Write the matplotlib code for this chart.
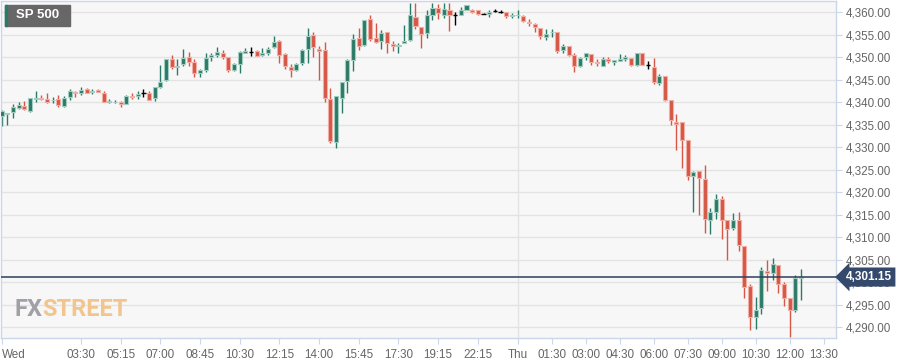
import matplotlib.pyplot as plt
from matplotlib.patches import Rectangle
from matplotlib.ticker import FuncFormatter, MultipleLocator

plt.rcParams['font.family'] = ['Liberation Sans', 'DejaVu Sans']

# 15 min candles, Wed 00:00 -> Thu 12:30 (break 20:00-21:15 removed)
opens = [4337.0, 4337.4, 4337.9, 4338.7, 4339.1, 4338.1, 4340.7, 4340.9, 4340.8, 4340.4,
         4340.7, 4339.2, 4341.1, 4342.3, 4342.1, 4342.9, 4342.3, 4342.7, 4342.1, 4340.1,
         4340.0, 4340.0, 4339.7, 4341.4, 4341.3, 4342.0, 4342.1, 4340.9, 4343.3, 4344.9,
         4349.6, 4347.9, 4348.4, 4350.1, 4348.9, 4346.4, 4347.1, 4350.1, 4350.4, 4350.9,
         4350.0, 4347.1, 4348.5, 4351.0, 4351.2, 4351.4, 4350.6, 4351.0, 4352.2, 4353.5,
         4350.7, 4347.9, 4347.2, 4348.7, 4351.9, 4355.0, 4351.9, 4351.5, 4340.8, 4331.1,
         4341.0, 4344.8, 4349.4, 4354.2, 4352.7, 4358.5, 4354.2, 4353.7, 4355.6, 4352.9,
         4352.4, 4353.1, 4353.9, 4359.0, 4356.8, 4355.3, 4359.4, 4360.9, 4359.4, 4360.4,
         4359.3, 4359.4, 4360.4, 4360.4, 4360.4, 4359.6, 4359.5, 4360.2, 4360.1, 4360.1,
         4359.2, 4359.3, 4359.2, 4357.9, 4357.3, 4356.4, 4354.6, 4355.5, 4355.5, 4351.5,
         4352.5, 4350.5, 4348.1, 4350.1, 4350.7, 4349.0, 4348.0, 4349.5, 4348.9, 4349.1,
         4349.5, 4349.8, 4348.3, 4350.9, 4348.2, 4347.8, 4344.3, 4345.8, 4340.4, 4335.7,
         4335.6, 4331.6, 4323.6, 4324.8, 4323.0, 4313.8, 4315.6, 4318.5, 4313.9, 4312.1,
         4313.9, 4308.0, 4299.1, 4292.3, 4294.2, 4302.5, 4302.1, 4303.9, 4299.5, 4296.5,
         4293.8, 4300.9]
highs = [4338.3, 4337.6, 4339.6, 4340.0, 4340.3, 4341.0, 4342.5, 4341.6, 4342.0, 4341.1,
         4341.6, 4341.4, 4342.9, 4342.6, 4343.3, 4343.2, 4342.9, 4342.9, 4342.6, 4340.7,
         4340.5, 4340.3, 4341.5, 4342.0, 4342.4, 4342.9, 4342.4, 4343.4, 4348.2, 4349.6,
         4350.5, 4349.5, 4351.9, 4351.1, 4349.5, 4347.4, 4350.9, 4351.0, 4352.3, 4351.7,
         4350.0, 4348.7, 4351.3, 4352.0, 4352.3, 4351.5, 4352.0, 4352.3, 4354.8, 4353.9,
         4350.9, 4348.4, 4348.7, 4351.9, 4356.4, 4355.7, 4352.5, 4353.3, 4343.1, 4341.3,
         4344.4, 4349.6, 4355.1, 4356.4, 4358.3, 4359.4, 4357.6, 4356.1, 4355.6, 4353.5,
         4353.1, 4357.2, 4362.0, 4362.0, 4356.8, 4360.4, 4362.0, 4361.8, 4362.1, 4362.0,
         4360.1, 4361.1, 4361.6, 4360.7, 4360.4, 4359.8, 4360.5, 4360.7, 4360.5, 4360.1,
         4359.8, 4360.5, 4359.4, 4358.4, 4357.6, 4356.4, 4356.2, 4356.2, 4355.5, 4353.0,
         4352.5, 4351.0, 4350.1, 4350.9, 4350.7, 4349.6, 4350.1, 4350.0, 4349.4, 4350.8,
         4350.4, 4349.8, 4351.0, 4350.9, 4349.1, 4349.9, 4346.3, 4345.8, 4340.6, 4337.4,
         4335.6, 4331.6, 4324.8, 4324.8, 4326.1, 4316.5, 4319.5, 4319.1, 4313.9, 4315.4,
         4315.6, 4308.0, 4299.6, 4296.7, 4303.4, 4305.0, 4305.4, 4303.9, 4300.1, 4296.5,
         4301.7, 4303.0]
lows = [4334.7, 4335.0, 4336.4, 4338.4, 4338.2, 4337.9, 4340.0, 4340.4, 4339.9, 4339.9,
        4339.0, 4339.0, 4340.5, 4341.1, 4341.6, 4342.0, 4341.9, 4342.2, 4340.0, 4339.9,
        4339.8, 4338.9, 4339.6, 4340.7, 4340.7, 4341.1, 4340.4, 4340.3, 4343.1, 4344.8,
        4347.4, 4346.0, 4348.0, 4348.0, 4345.5, 4345.5, 4346.8, 4349.1, 4350.0, 4349.7,
        4346.8, 4346.9, 4346.6, 4350.9, 4350.3, 4350.2, 4350.3, 4350.4, 4352.0, 4348.8,
        4347.3, 4345.5, 4347.0, 4348.3, 4348.7, 4350.1, 4345.0, 4340.1, 4330.9, 4329.8,
        4337.6, 4342.1, 4347.0, 4351.5, 4352.4, 4353.7, 4353.1, 4351.9, 4351.0, 4351.3,
        4351.0, 4353.1, 4353.7, 4356.2, 4352.0, 4354.2, 4358.3, 4358.5, 4358.7, 4355.9,
        4357.2, 4359.4, 4360.4, 4359.8, 4359.4, 4359.5, 4359.0, 4360.0, 4359.8, 4358.7,
        4358.7, 4358.7, 4357.9, 4357.0, 4355.6, 4354.0, 4353.9, 4354.4, 4351.0, 4351.0,
        4350.3, 4346.7, 4347.9, 4349.4, 4348.3, 4348.1, 4348.0, 4348.7, 4348.3, 4349.1,
        4349.1, 4348.0, 4348.1, 4348.3, 4347.3, 4344.0, 4343.9, 4340.2, 4334.9, 4329.4,
        4325.4, 4322.8, 4315.6, 4315.0, 4311.0, 4310.7, 4314.1, 4309.6, 4305.0, 4311.5,
        4307.0, 4296.5, 4289.3, 4289.7, 4293.0, 4298.0, 4300.6, 4297.5, 4294.8, 4287.9,
        4293.4, 4296.1]
closes = [4338.0, 4337.6, 4338.9, 4339.3, 4338.4, 4340.9, 4341.0, 4340.7, 4340.1, 4340.6,
          4339.4, 4341.0, 4342.5, 4342.0, 4342.7, 4342.1, 4342.5, 4342.3, 4340.1, 4340.2,
          4340.1, 4339.7, 4341.4, 4341.1, 4341.8, 4342.0, 4340.6, 4343.3, 4344.6, 4349.6,
          4347.9, 4348.1, 4349.9, 4348.9, 4346.4, 4347.1, 4349.9, 4350.5, 4351.1, 4350.0,
          4347.1, 4348.6, 4351.1, 4351.4, 4351.2, 4350.3, 4350.9, 4351.9, 4353.3, 4350.5,
          4348.1, 4347.2, 4348.4, 4351.5, 4354.7, 4352.2, 4351.4, 4341.0, 4331.3, 4341.3,
          4344.4, 4349.3, 4354.0, 4352.6, 4358.3, 4354.1, 4353.3, 4355.3, 4353.1, 4352.4,
          4352.7, 4353.6, 4359.4, 4357.0, 4355.1, 4359.4, 4360.9, 4359.9, 4360.7, 4359.4,
          4359.3, 4360.5, 4361.5, 4360.0, 4359.6, 4359.6, 4360.1, 4360.2, 4360.1, 4359.2,
          4359.4, 4359.4, 4358.1, 4357.6, 4356.8, 4354.7, 4355.1, 4355.6, 4351.3, 4352.4,
          4350.5, 4348.1, 4349.9, 4350.9, 4349.0, 4348.7, 4349.5, 4349.1, 4349.3, 4349.5,
          4350.0, 4348.3, 4351.0, 4348.3, 4348.2, 4344.5, 4345.8, 4340.6, 4336.0, 4335.1,
          4331.7, 4323.7, 4324.4, 4323.2, 4314.1, 4315.6, 4318.5, 4313.8, 4311.9, 4313.9,
          4308.2, 4299.0, 4292.3, 4293.9, 4302.7, 4302.1, 4304.1, 4299.6, 4296.5, 4293.8,
          4301.0, 4301.15]

tick_pos = [0, 14, 21, 28, 35, 42, 49, 56, 63, 70, 77, 84, 91,
            97, 103, 109, 115, 121, 127, 133, 139, 145]
tick_labels = ['Wed', '03:30', '05:15', '07:00', '08:45', '10:30', '12:15', '14:00',
               '15:45', '17:30', '19:15', '22:15', 'Thu', '01:30', '03:00', '04:30',
               '06:00', '07:30', '09:00', '10:30', '12:00', '13:30']
day_break = 91
last_price = 4301.15

GREEN = '#2b7a67'
RED = '#d65746'
GREEN_EDGE = '#a3ccc0'
RED_EDGE = '#f0aea4'
BORDER = '#ccd6eb'
TXT = '#666666'

fig = plt.figure(figsize=(9.01, 3.64), dpi=100)
fig.patch.set_facecolor('white')
ax = fig.add_axes([1 / 901, 26 / 364, 835 / 901, 337 / 364])
ax.set_facecolor('#f7f7f7')

# grille + separation des jours
ax.yaxis.set_major_locator(MultipleLocator(5))
ax.grid(axis='y', color='#e3e3e3', linewidth=1, zorder=0)
ax.axvline(day_break, color='#e3e3e3', linewidth=1, zorder=0)

# bougies
for i in range(len(opens)):
    o, h, l, c = opens[i], highs[i], lows[i], closes[i]
    if o == c:
        ax.vlines(i, l, h, color='black', linewidth=1, zorder=3)
        ax.hlines(o, i - 0.4, i + 0.4, color='black', linewidth=1, zorder=3)
        continue
    col = GREEN if c > o else RED
    edge = GREEN_EDGE if c > o else RED_EDGE
    ax.vlines(i, l, h, color=col, linewidth=1, zorder=2)
    ax.bar(i, abs(c - o), bottom=min(o, c), width=0.72, color=col,
           edgecolor=edge, linewidth=0.8, zorder=3)

# dernier prix
ax.axhline(last_price, color='#2f3f5c', linewidth=1.1, zorder=4)
ax.annotate(f'{last_price:,.2f}', xy=(1.0, last_price), xycoords=('axes fraction', 'data'),
            xytext=(7, 0), textcoords='offset points', ha='left', va='center',
            color='white', fontsize=8.5, fontweight='bold', annotation_clip=False,
            bbox=dict(boxstyle='larrow,pad=0.3', fc='#34496b', ec='none'), zorder=10)

ax.set_xlim(-0.1, -0.1 + 835 / 5.67)
ax.set_ylim(4287.6, 4362.5)

ax.yaxis.tick_right()
ax.yaxis.set_major_formatter(FuncFormatter(lambda v, p: f'{v:,.2f}'))
ax.tick_params(axis='y', length=4, color=BORDER, labelcolor=TXT, labelsize=8.4, pad=3)
ax.set_xticks(tick_pos)
ax.set_xticklabels(tick_labels)
ax.tick_params(axis='x', length=4, color=BORDER, labelcolor=TXT, labelsize=8.4, pad=4)
ax.get_xticklabels()[0].set_horizontalalignment('left')

for s in ax.spines.values():
    s.set_color(BORDER)
    s.set_linewidth(1)

# titre en haut a gauche
fig.add_artist(Rectangle((5 / 901, 338 / 364), 65 / 901, 21 / 364,
                         transform=fig.transFigure, color='#676767', zorder=5))
fig.add_artist(Rectangle((5 / 901, 338 / 364), 2 / 901, 21 / 364,
                         transform=fig.transFigure, color=GREEN, zorder=6))
fig.text(16 / 901, 348.5 / 364, 'SP 500', color='white', fontsize=9.5,
         fontweight='bold', va='center', ha='left', zorder=7)

# filigrane
wm = ['Roboto', 'DejaVu Sans']
fig.text(15 / 901, 48 / 364, 'FX', color='#a0a0a6', fontsize=17, family=wm,
         fontweight='bold', va='baseline', ha='left', zorder=1)
fig.text(42 / 901, 48 / 364, 'STREET', color='#f2c58e', fontsize=17, family=wm,
         fontweight='bold', va='baseline', ha='left', zorder=1)

fig.savefig('out.png', dpi=100)
